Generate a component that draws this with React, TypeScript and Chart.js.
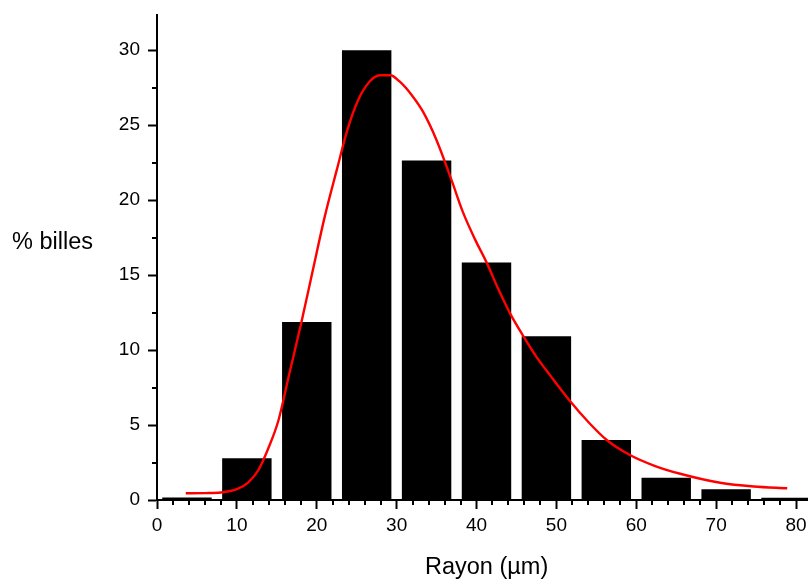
import React, { useEffect, useRef } from "react";
import { Chart, registerables } from "chart.js";

Chart.register(...registerables);

// Histogram bins (centre of each bin, in µm) and their percentages
const binCenters = [3.75, 11.25, 18.75, 26.25, 33.75, 41.25, 48.75, 56.25, 63.75, 71.25, 78.75];
const binPercents = [0.17, 2.78, 11.88, 30.0, 22.65, 15.84, 10.93, 4.0, 1.48, 0.72, 0.15];

// Fitted distribution curve
const fitX = [
  3.6, 6.0, 8.0, 10.0, 11.4, 12.7, 13.9, 15.2, 16.6, 18.1, 19.5, 21.0, 22.5, 23.9, 25.2,
  26.6, 27.9, 29.2, 30.4, 31.9, 33.3, 35.0, 36.9, 38.3, 39.8, 41.3, 42.7, 44.2, 45.9,
  47.5, 49.2, 51.7, 54.0, 56.3, 59.2, 62.2, 65.5, 70.5, 74.7, 78.9,
];
const fitY = [
  0.45, 0.46, 0.5, 0.72, 1.16, 2.0, 3.4, 5.3, 8.5, 11.9, 15.3, 18.9, 22.0, 24.8, 26.7,
  27.9, 28.33, 28.33, 27.9, 27.0, 25.9, 24.0, 21.3, 19.2, 17.4, 15.8, 14.1, 12.45, 10.9,
  9.55, 8.33, 6.6, 5.2, 4.0, 3.0, 2.3, 1.75, 1.15, 0.9, 0.78,
];

// Axis ticks
const xMajorStep = 10;
const xMinorTicks = [2, 4, 6, 8, 12, 14, 16, 18, 22, 24, 26, 28, 32, 34, 36, 38, 42, 44, 46, 48, 52, 54, 56, 58, 62, 64, 66, 68, 72, 74, 76, 78];
const yMajorStep = 5;
const yMinorTicks = [2.5, 7.5, 12.5, 17.5, 22.5, 27.5];

const xTitle = "Rayon (µm)";
const yTitle = "% billes";

const FONT = "'Liberation Sans', Arial, Helvetica, sans-serif";

const extrasPlugin = {
  id: "extras",
  afterDraw(chart: any) {
    const { ctx, chartArea, scales } = chart;
    const x = scales.x;
    const y = scales.y;
    ctx.save();
    ctx.strokeStyle = "#000";
    ctx.lineWidth = 2;
    ctx.beginPath();
    for (const v of xMinorTicks) {
      const px = Math.round(x.getPixelForValue(v));
      ctx.moveTo(px, chartArea.bottom);
      ctx.lineTo(px, chartArea.bottom + 5);
    }
    for (const v of yMinorTicks) {
      const py = Math.round(y.getPixelForValue(v));
      ctx.moveTo(chartArea.left - 5, py);
      ctx.lineTo(chartArea.left, py);
    }
    ctx.stroke();

    ctx.fillStyle = "#000";
    ctx.font = `23.5px ${FONT}`;
    ctx.textAlign = "left";
    ctx.textBaseline = "alphabetic";
    ctx.fillText(yTitle, 12, 249);
    ctx.fillText(xTitle, 425, 574);
    ctx.restore();
  },
};

export default function App() {
  const ref = useRef<HTMLCanvasElement | null>(null);

  useEffect(() => {
    if (!ref.current) return;
    const chart = new Chart(ref.current, {
      type: "bar",
      data: {
        datasets: [
          {
            type: "line",
            data: fitX.map((v, i) => ({ x: v, y: fitY[i] })),
            borderColor: "#ff0000",
            borderWidth: 2.4,
            pointRadius: 0,
            fill: false,
            cubicInterpolationMode: "monotone",
            order: 0,
          } as any,
          {
            type: "bar",
            data: binCenters.map((v, i) => ({ x: v, y: binPercents[i] })),
            backgroundColor: "#000000",
            borderWidth: 0,
            barPercentage: 0.825,
            categoryPercentage: 1,
            order: 1,
          } as any,
        ],
      },
      options: {
        animation: false,
        responsive: false,
        events: [],
        layout: { padding: { top: 15, right: 0, bottom: 0, left: 0 } },
        plugins: {
          legend: { display: false },
          tooltip: { enabled: false },
        },
        scales: {
          x: {
            type: "linear",
            min: 0,
            max: 81.5,
            offset: false,
            grid: {
              offset: false,
              drawOnChartArea: false,
              drawTicks: true,
              tickLength: 9,
              tickWidth: 2,
              tickColor: "#000",
            },
            border: { display: true, color: "#000", width: 2 },
            ticks: {
              stepSize: xMajorStep,
              includeBounds: false,
              autoSkip: false,
              maxRotation: 0,
              color: "#000",
              padding: 5,
              font: { family: FONT, size: 19 },
            },
            afterFit: (s: any) => {
              s.height = 79;
              s.paddingLeft = 0;
              s.paddingRight = 0;
            },
          },
          y: {
            type: "linear",
            min: 0,
            max: 32.35,
            grid: {
              drawOnChartArea: false,
              drawTicks: true,
              tickLength: 9,
              tickWidth: 2,
              tickColor: "#000",
            },
            border: { display: true, color: "#000", width: 2 },
            ticks: {
              stepSize: yMajorStep,
              includeBounds: false,
              color: "#000",
              padding: 8,
              font: { family: FONT, size: 19 },
            },
            afterFit: (s: any) => {
              s.width = 157;
              s.paddingTop = 0;
              s.paddingBottom = 0;
            },
          },
        },
      } as any,
      plugins: [extrasPlugin],
    });
    return () => chart.destroy();
  }, []);

  return (
    <div style={{ position: "absolute", left: 0, top: 0, width: 808, height: 579, background: "#fff" }}>
      <canvas ref={ref} width={808} height={579} style={{ display: "block" }} />
    </div>
  );
}
